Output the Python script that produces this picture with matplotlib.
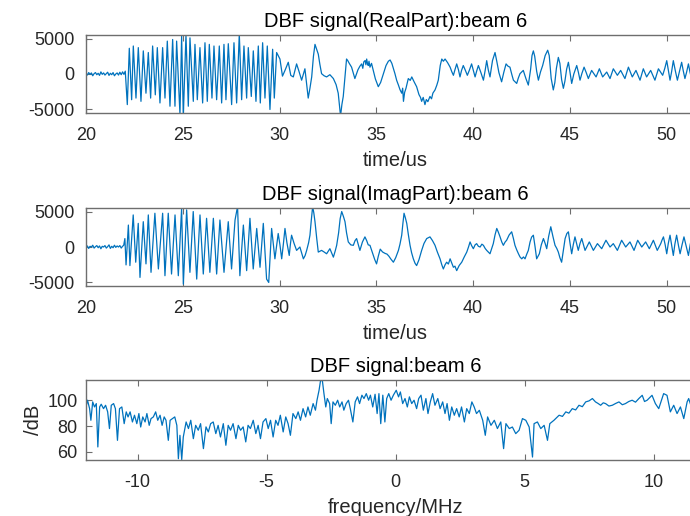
import matplotlib
matplotlib.use("Agg")
import matplotlib.pyplot as plt

plt.rcParams['font.family'] = ['Liberation Sans', 'DejaVu Sans']
plt.rcParams['axes.unicode_minus'] = False

# real part of the beam-formed signal (time in us)
real_t = [20.0, 20.07, 20.14, 20.21, 20.28, 20.35, 20.42, 20.49, 20.56, 20.63, 20.70, 20.77,
          20.84, 20.91, 20.98, 21.05, 21.12, 21.19, 21.26, 21.33, 21.40, 21.47, 21.54, 21.61,
          21.68, 21.75, 21.82, 21.89, 21.96, 22.03,
          22.135, 22.238, 22.359, 22.445, 22.583, 22.703, 22.841, 22.961, 23.099, 23.22,
          23.34, 23.443, 23.581, 23.685, 23.822, 23.96, 24.081, 24.201, 24.339, 24.477,
          24.597, 24.683, 24.855, 24.941, 25.028, 25.165, 25.286, 25.372, 25.544, 25.63,
          25.751, 25.888, 26.026, 26.147, 26.267, 26.371, 26.508, 26.612, 26.749, 26.887,
          27.008, 27.128, 27.231, 27.352, 27.524, 27.645, 27.782, 27.92, 28.041, 28.161,
          28.299, 28.385, 28.54, 28.643, 28.781, 28.902, 29.005, 29.125, 29.246, 29.366,
          29.504, 29.642, 29.728, 29.848,
          30.02, 30.15, 30.28, 30.45, 30.58, 30.71, 30.88, 31.00, 31.14, 31.31, 31.40, 31.48,
          31.57, 31.66, 31.75, 31.83, 31.90, 32.00, 32.08, 32.17, 32.30, 32.43, 32.60, 32.78,
          32.92, 33.03, 33.15, 33.22, 33.29, 33.38, 33.46, 33.52, 33.60, 33.72, 33.89, 34.05,
          34.15, 34.24, 34.30, 34.35, 34.42, 34.46, 34.50, 34.54, 34.58, 34.62, 34.67, 34.75,
          34.84, 34.95, 35.10, 35.22, 35.35, 35.50, 35.62, 35.71, 35.80, 35.90, 35.96, 36.05,
          36.14, 36.22, 36.31, 36.36, 36.40, 36.46, 36.53, 36.60, 36.65, 36.75, 36.83, 36.95,
          37.08, 37.20, 37.28, 37.34, 37.42, 37.51, 37.58, 37.66, 37.77, 37.85, 37.92, 38.03,
          38.12, 38.20, 38.30, 38.38, 38.46, 38.55, 38.68, 38.81, 38.90, 38.98, 39.06, 39.15,
          39.24, 39.32, 39.40, 39.49, 39.60, 39.70, 39.80, 39.92, 40.00, 40.10, 40.18, 40.27,
          40.40, 40.53, 40.62, 40.70, 40.78, 40.87, 41.00, 41.13, 41.22, 41.33, 41.47, 41.58,
          41.70, 41.80, 41.90, 42.00, 42.08, 42.25, 42.33, 42.42, 42.59, 42.72, 42.85, 42.97,
          43.04, 43.11, 43.18, 43.28, 43.37, 43.48, 43.59, 43.72, 43.85, 43.93, 44.03, 44.14,
          44.22, 44.30, 44.40, 44.48, 44.57, 44.66, 44.74, 44.83, 44.92, 45.00, 45.09, 45.20,
          45.35, 45.44, 45.52, 45.62, 45.73, 45.84, 45.95, 46.03, 46.12, 46.35, 46.52, 46.69,
          46.90, 47.07, 47.24, 47.45, 47.62, 47.84, 48.02, 48.22, 48.41, 48.62, 48.79, 48.96,
          49.17, 49.39, 49.57, 49.79, 49.90, 50.00, 50.08, 50.17, 50.25, 50.34, 50.44, 50.55,
          50.66, 50.77, 50.85, 50.94, 51.03, 51.12, 51.20, 51.30, 51.40, 51.50, 51.60, 51.70,
          51.85, 52.00]
real_v = [100, -150, 200, -50, 150, -250, 50, 200, -100, 100, -200, 300,
          -50, 150, -150, 50, 250, -200, 100, -100, 200, -250, 0, 150,
          -150, 250, -100, 300, -50, 400,
          -4315, 3626, -3626, 3947, -3397, 3718, -3856, 3259, -2708, 3029,
          -3397, 3947, -2938, 3718, -4085, 3718, -3397, 4636, -4544, 4865,
          -4544, 4636, -5692, 5324, -5921, 5462, -4544, 5095, -3856, 4177,
          -3626, 3718, -4085, 4406, -3856, 4177, -3397, 3947, -3626, 3947,
          -4085, 4177, -3626, 4269, -4315, 4406, -4085, 5646, -3626, 3947,
          -3397, 3718, -3167, 3259, -3856, 3947, -4085, 4406, -3397, 3947,
          -5003, 3488, -3397, 3029,
          2111, -300, 505, 1652, -200, -413, 1423, 400, -872, 734, -1500, -3397,
          -2000, -413, 2500, 4177, 3600, 2800, 1400, 46, -250, -413, -100, -643,
          -1500, -2708, -5921, -4300, -3167, -300, 2111, 1900, 1500, 964, -643, 600,
          1100, 1423, 800, 1700, 1900, 1300, 2111, 1500, 1200, 1800, 964, 1500,
          505, -700, -1790, -1200, -100, 1200, 1800, 1974, 1500, 600, 46, -900,
          -1561, -2200, -2708, -2000, -3856, -2600, -2020, -1200, -643, -900, -413, -1100,
          -1790, -2900, -3300, -3856, -3300, -4315, -3600, -3900, -3167, -3500, -2700, -2249,
          -1600, -872, 1200, 2111, 1800, 2111, 1600, 964, 300, -184, 600, 1423,
          600, -413, 500, 1193, 500, -184, 500, 1423, 600, -413, 400, 1193,
          200, -872, 500, 1882, 600, -413, 1900, 3029, 1800, 200, -1102, 200,
          1423, 1100, 964, -100, -872, -1331, -600, 46, 505, -600, -1561, 700,
          2600, 3259, 2500, 400, -872, 300, 1193, 2600, 3351, 2600, -600, -2249,
          -1200, 800, 2341, 1500, -800, -2020, -1000, 700, 1652, 300, -1331, 0,
          1193, 200, -872, 100, 964, 200, -643, -100, 505, -413, 734, -413,
          275, -643, 734, -184, 505, -643, 964, -413, 505, -872, 734, -413,
          505, -872, 734, -184, 800, 1882, 600, -872, 300, 1882, 500, -872,
          400, 1652, 500, -643, 300, 1423, 300, -900, 300, 1600, 300, -700,
          300, 1200]

# imaginary part
imag_t = [20.0, 20.07, 20.14, 20.21, 20.28, 20.35, 20.42, 20.49, 20.56, 20.63, 20.70, 20.77,
          20.84, 20.91, 20.98, 21.05, 21.12, 21.19, 21.26, 21.33, 21.40, 21.47, 21.54, 21.61,
          21.68, 21.75, 21.82, 21.89, 21.95,
          22.01, 22.07, 22.19, 22.27, 22.44, 22.57, 22.70, 22.79, 22.96, 23.10, 23.22, 23.36,
          23.56, 23.74, 23.96, 24.08, 24.25, 24.42, 24.60, 24.77, 24.94, 25.03, 25.20, 25.37,
          25.54, 25.72, 25.89, 26.06, 26.23, 26.40, 26.58, 26.75, 26.92, 27.13, 27.35, 27.52,
          27.70, 27.83, 27.95, 28.13, 28.30, 28.47, 28.64, 28.82, 28.99, 29.16, 29.33, 29.44,
          29.59, 29.68, 29.76, 29.85, 29.93, 30.02, 30.11, 30.20, 30.28, 30.38, 30.50, 30.56,
          30.62, 30.75, 30.88, 31.05, 31.15, 31.23, 31.32, 31.40, 31.50, 31.57, 31.64, 31.71,
          31.77, 31.83, 31.92, 32.00, 32.17, 32.30, 32.43, 32.60, 32.78, 32.88, 32.95, 33.05,
          33.13, 33.21, 33.30, 33.38, 33.46, 33.55, 33.68, 33.81, 33.90, 33.98, 34.06, 34.15,
          34.28, 34.41, 34.50, 34.58, 34.67, 34.76, 34.84, 34.92, 35.01, 35.10, 35.20, 35.32,
          35.45, 35.55, 35.65, 35.75, 35.88, 36.00, 36.14, 36.22, 36.31, 36.37, 36.43, 36.50,
          36.57, 36.65, 36.74, 36.82, 36.91, 37.00, 37.08, 37.20, 37.34, 37.46, 37.60, 37.77,
          37.90, 38.03, 38.15, 38.29, 38.38, 38.46, 38.55, 38.63, 38.72, 38.81, 38.90, 38.98,
          39.06, 39.15, 39.28, 39.41, 39.54, 39.67, 39.76, 39.84, 39.92, 40.01, 40.10, 40.18,
          40.27, 40.36, 40.45, 40.53, 40.62, 40.70, 40.78, 40.87, 40.96, 41.04, 41.13, 41.22,
          41.30, 41.39, 41.48, 41.56, 41.65, 41.73, 41.86, 41.99, 42.08, 42.16, 42.25, 42.34,
          42.42, 42.51, 42.60, 42.68, 42.77, 42.85, 42.94, 43.02, 43.11, 43.20, 43.28, 43.35,
          43.42, 43.52, 43.63, 43.72, 43.80, 43.90, 44.01, 44.12, 44.23, 44.32, 44.40, 44.48,
          44.57, 44.66, 44.75, 44.84, 44.92, 45.00, 45.09, 45.17, 45.26, 45.35, 45.43, 45.52,
          45.61, 45.70, 45.78, 46.00, 46.21, 46.42, 46.64, 46.86, 47.07, 47.24, 47.45, 47.67,
          47.88, 48.10, 48.31, 48.50, 48.71, 48.91, 49.10, 49.31, 49.51, 49.69, 49.76, 49.83,
          49.92, 50.00, 50.08, 50.17, 50.25, 50.34, 50.42, 50.51, 50.60, 50.69, 50.79, 50.89,
          51.00, 51.12, 51.21, 51.30, 51.40, 51.50, 51.60, 51.70, 51.85, 52.00]
imag_v = [-50, 150, -200, 100, 0, 250, -150, 50, 200, -100, 150, -250,
          100, 0, 200, -150, 50, 300, -200, 100, -100, 250, -50, 150,
          0, 200, -150, 100, 250,
          1190, -2523, 3094, -2618, 4522, -2142, 3332, -4284, 3570, -2380, 4522, -3570,
          4760, -3094, 4760, -4046, 4760, -3808, 4522, -4046, 5474, -5236, 5236, -3570,
          4998, -4522, 4522, -3808, 4046, -3570, 4046, -3808, 3808, -3570, 3570, -3094,
          3808, 5712, -4046, 3094, -3332, 4046, -3094, 2618, -2856, 3332, -4522, -4998,
          2618, 400, -1666, 200, 1904, 300, -1666, 500, 2618, 600, -1190, 400,
          1666, 500, -476, 0, -900, -1666, -1200, -476, 600, 1666, 3800, 5712,
          4800, 3570, 1200, -714, -476, -700, -952, -238, -1428, -500, 238, 2000,
          4000, 4998, 4300, 3570, 2000, 714, 300, 238, 900, 1190, 400, -476,
          700, 1428, 900, 300, 238, -500, -1190, -1800, -2380, -1300, -300, -700,
          -900, -1000, -1300, -1700, -2142, -1500, -476, 400, 1666, 3300, 4760, 4100,
          3332, 1800, 238, -800, -1666, -2300, -2618, -1800, -476, 500, 1190, 1428,
          900, 238, -700, -1666, -2500, -3094, -2500, -2142, -2400, -1666, -2300, -2856,
          -2700, -3332, -2600, -2142, -1400, -714, 0, 714, 200, -238, 300, 476,
          100, 0, 400, 238, -200, -476, -700, -952, -200, 476, 1700, 2618,
          2100, 1428, 700, 238, 700, 952, 1700, 2142, 1200, 238, -400, -952,
          -1400, -1666, -1400, -1666, -1000, -476, 714, 1400, 1666, 0, -1666, -1300,
          -952, 300, 1190, 500, -238, 1500, 2856, 1500, 238, -200, -714, -1500,
          -2142, -500, 1190, 1900, 2142, 600, -952, 300, 1428, 400, -476, 500,
          1190, 300, -476, 714, -476, 476, -238, 952, 0, 476, -476, 952,
          0, 714, -476, 952, 0, 714, -238, 952, -476, 476, 1000, 1428,
          300, -952, 500, 1666, 300, -1190, 400, 1666, 300, -952, 300, 1428,
          200, -1190, 300, 1500, 200, -1100, 300, 1300, 200, -800]

# spectrum (frequency in MHz, level in dB)
freq_mhz = [-12.00, -11.94, -11.86, -11.81, -11.74, -11.67, -11.60, -11.54, -11.47, -11.41,
            -11.32, -11.24, -11.16, -11.09, -11.02, -10.93, -10.86, -10.78, -10.70, -10.61,
            -10.52, -10.44, -10.37, -10.29, -10.20, -10.12, -10.03, -9.95, -9.88, -9.80,
            -9.71, -9.64, -9.55, -9.48, -9.39, -9.30, -9.22, -9.13, -9.05, -8.97,
            -8.90, -8.81, -8.74, -8.65, -8.56, -8.48, -8.42,
            -8.36, -8.29, -8.23, -8.12, -8.03, -7.94, -7.84, -7.75, -7.65, -7.56,
            -7.45, -7.35, -7.26, -7.17, -7.07, -6.97, -6.88, -6.79, -6.68, -6.58,
            -6.49, -6.40, -6.30, -6.19, -6.10, -6.01, -5.91, -5.81, -5.72, -5.63,
            -5.52, -5.42, -5.33, -5.24, -5.14, -5.03, -4.94, -4.85, -4.75, -4.65,
            -4.56, -4.47, -4.36, -4.26, -4.17, -4.08, -3.98, -3.87, -3.78, -3.69,
            -3.59, -3.49, -3.40, -3.31, -3.20, -3.11, -3.05, -2.97, -2.91, -2.84,
            -2.78, -2.71, -2.65, -2.56, -2.50, -2.43, -2.34, -2.25, -2.17, -2.08,
            -2.01, -1.92, -1.83, -1.76, -1.66, -1.57, -1.48, -1.40, -1.31, -1.23,
            -1.14, -1.05, -0.98, -0.89, -0.80, -0.72, -0.65, -0.58, -0.50, -0.42,
            -0.35, -0.27, -0.18, -0.09, 0.02, 0.11, 0.18, 0.27, 0.36, 0.45,
            0.53, 0.62, 0.71, 0.81, 0.89, 0.98, 1.07, 1.17, 1.25, 1.34,
            1.43, 1.52, 1.63, 1.72, 1.82, 1.91, 1.99, 2.08, 2.17, 2.27,
            2.36, 2.46, 2.55, 2.66, 2.75, 2.85, 2.95, 3.04, 3.13,
            3.24, 3.37, 3.47, 3.56, 3.69, 3.82, 3.94, 4.07, 4.18, 4.27,
            4.40, 4.52, 4.65, 4.78, 4.91, 5.04, 5.17, 5.30, 5.36, 5.49,
            5.62, 5.75, 5.88, 5.97, 6.13, 6.23, 6.33, 6.46, 6.59, 6.71,
            6.84, 6.97, 7.10, 7.23, 7.36, 7.49, 7.62, 7.74, 7.84, 7.94,
            8.04, 8.13, 8.26, 8.39, 8.52, 8.65, 8.78, 8.90, 9.03, 9.16,
            9.29, 9.42, 9.55, 9.64, 9.74, 9.84, 9.93, 10.06, 10.19, 10.38,
            10.51, 10.64, 10.77, 10.90, 11.03, 11.16, 11.29, 11.35, 11.50, 11.70, 12.00]
level_db = [94.8, 100.0, 93.5, 84.5, 98.7, 94.8, 97.4, 63.9, 94.8, 96.9,
            93.5, 96.1, 91.0, 78.1, 96.1, 97.4, 93.5, 69.0, 93.5, 94.8,
            81.9, 91.0, 87.1, 91.0, 83.2, 88.4, 81.9, 89.7, 79.3, 87.1,
            83.2, 89.7, 80.6, 85.8, 87.1, 91.0, 84.5, 88.4, 80.6, 87.1,
            84.5, 69.0, 84.5, 85.8, 87.1, 80.6, 54.8,
            72.9, 54.1, 71.6, 83.2, 78.1, 84.5, 70.3, 80.6, 76.8, 81.9,
            62.6, 79.4, 75.5, 81.9, 83.2, 74.2, 80.6, 71.6, 81.9, 65.2,
            80.6, 76.8, 81.9, 70.3, 80.6, 76.8, 79.4, 67.8, 80.6, 78.1,
            84.5, 74.2, 80.6, 70.3, 83.2, 85.8, 78.1, 84.5, 71.6, 84.5,
            80.6, 88.4, 75.5, 87.1, 81.9, 72.9, 89.7, 85.8, 91.0, 84.5,
            93.5, 87.1, 94.8, 88.4, 97.4, 92.3, 100.0, 107.7, 115.5, 114.9,
            105.1, 94.8, 101.3, 97.4, 81.9, 98.7, 96.1, 100.0, 94.8, 98.7,
            92.3, 97.4, 100.0, 93.5, 83.2, 98.7, 102.6, 97.4, 103.9, 101.3,
            105.1, 100.0, 103.9, 94.8, 104.6, 89.7, 105.1, 81.9, 103.9, 83.2,
            101.3, 105.1, 100.0, 103.9, 107.7, 102.6, 106.4, 97.4, 101.3, 94.8,
            102.6, 97.4, 100.0, 93.5, 101.3, 103.9, 92.3, 101.3, 89.7, 98.7,
            105.1, 96.1, 101.3, 93.5, 98.7, 89.7, 97.4, 84.5, 94.8, 88.4,
            93.5, 87.1, 94.8, 83.2, 93.5, 89.7, 98.7, 94.8, 89.7,
            92.2, 84.5, 72.9, 87.1, 80.6, 84.5, 78.1, 83.2, 62.6, 81.9,
            78.1, 79.3, 74.2, 76.8, 85.8, 84.5, 79.3, 56.1, 81.9, 83.2,
            78.1, 80.6, 69.0, 81.9, 84.5, 86.5, 88.4, 87.5, 91.0, 90.0,
            93.5, 92.5, 96.1, 95.0, 98.7, 99.5, 101.3, 98.7, 97.5, 96.1,
            98.0, 97.4, 95.5, 96.1, 97.5, 98.7, 96.5, 97.4, 99.0, 100.0,
            98.5, 101.3, 103.8, 99.0, 100.0, 102.0, 103.8, 97.4, 93.5, 105.1,
            103.8, 91.0, 96.1, 89.7, 94.8, 85.8, 98.7, 101.3, 92.0, 95.0, 90.0]

line_color = '#0072BD'
text_color = '#262626'
box_color = '#6e6e6e'


def style_axes(ax, ypad=8):
    for side in ax.spines:
        ax.spines[side].set_color(box_color)
        ax.spines[side].set_linewidth(1.0)
    ax.tick_params(direction='in', top=True, right=True, length=4, width=0.8,
                   color=box_color, labelsize=13, labelcolor=text_color)
    ax.tick_params(axis='x', pad=10)
    ax.tick_params(axis='y', pad=ypad)


fig = plt.figure(figsize=(6.9, 5.16), dpi=100)
fig.patch.set_facecolor('white')

# axes reach past the right edge of the picture, as in the original screenshot
ax1 = fig.add_axes([0.1246, 0.781, 0.8978, 0.1512])
ax2 = fig.add_axes([0.1246, 0.4457, 0.8978, 0.1512])
ax3 = fig.add_axes([0.1246, 0.1085, 0.8978, 0.155])

for ax, t, v, name in [(ax1, real_t, real_v, 'RealPart'), (ax2, imag_t, imag_v, 'ImagPart')]:
    ax.plot(t, v, color=line_color, lw=0.9)
    ax.set_xlim(20, 52)
    ax.set_ylim(-5500, 5500)
    ax.set_xticks([20, 25, 30, 35, 40, 45, 50])
    ax.set_yticks([-5000, 0, 5000])
    ax.set_title('DBF signal(%s):beam 6' % name, fontsize=14.5, color='black', pad=6)
    ax.set_xlabel('time/us', fontsize=14.5, color=text_color, labelpad=5)
    style_axes(ax)

ax3.plot(freq_mhz, level_db, color=line_color, lw=0.9)
ax3.set_xlim(-12, 12)
ax3.set_ylim(53.8, 115.6)
ax3.set_xticks([-10, -5, 0, 5, 10])
ax3.set_yticks([60, 80, 100])
ax3.set_title('DBF signal:beam 6', fontsize=14.5, color='black', pad=6)
ax3.set_xlabel('frequency/MHz', fontsize=14.5, color=text_color, labelpad=5)
ax3.set_ylabel('/dB', fontsize=14.5, color=text_color, labelpad=3)
style_axes(ax3, ypad=6)

fig.savefig('out.png', dpi=100)
